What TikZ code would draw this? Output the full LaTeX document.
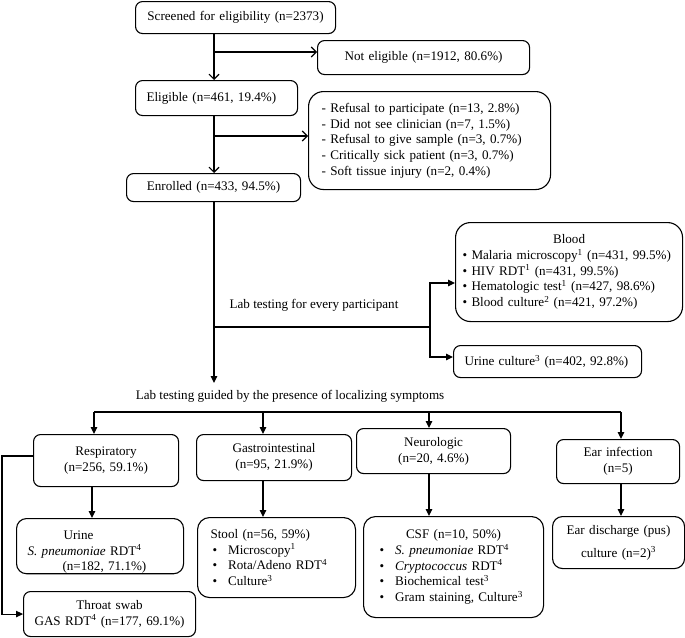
\documentclass[tikz,border=0pt]{standalone}
\usepackage{fontspec}
\setmainfont{Liberation Serif}
\usetikzlibrary{arrows.meta}
\newcommand{\mln}[1]{\mbox{#1}}
\begin{document}
\begin{tikzpicture}[x=1pt,y=-1pt,
  every node/.style={font=\fontsize{13.1}{15.7}\selectfont},
  bx/.style={draw, line width=1.1pt, rounded corners=7pt, anchor=north west, inner ysep=0pt},
  cbox/.style args={#1/#2}{bx, inner xsep=0pt, minimum width=#1, text width=#1, minimum height=#2, align=center},
  lbox/.style args={#1/#2/#3}{bx, inner xsep=#3, text width=#1, minimum height=#2, align=left},
  con/.style={line width=1.1pt},
  oarr/.style={con, -{Straight Barb[length=5pt,width=10pt]}},
  farr/.style={con, -{Triangle[length=7pt,width=6.5pt]}},
  lbl/.style={inner sep=0pt}]
\useasboundingbox (0,0) rectangle (685,637);

% top part
\node[cbox=200pt/32pt] (scr) at (135,1) {Screened for eligibility (n=2373)};
\node[cbox=212pt/34pt] (notel) at (317,40) {Not eligible (n=1912, 80.6\%)};
\node[lbox=140pt/35pt/11pt] (elig) at (135,80) {Eligible (n=461, 19.4\%)};
\node[lbox=216pt/98pt/13pt, rounded corners=15pt] (ref) at (308,91) {\mln{- Refusal to participate (n=13, 2.8\%)}\\\mln{- Did not see clinician (n=7, 1.5\%)}\\\mln{- Refusal to give sample (n=3, 0.7\%)}\\\mln{- Critically sick patient (n=3, 0.7\%)}\\\mln{- Soft tissue injury (n=2, 0.4\%)}};
\node[cbox=174pt/28pt] (enr) at (126,173) {Enrolled (n=433, 94.5\%)};

\node[lbox=213pt/99pt/7pt, rounded corners=15pt] (blood) at (455,222) {\makebox[213pt]{Blood}\\\mln{\textbullet\ Malaria microscopy\textsuperscript{1} (n=431, 99.5\%)}\\\mln{\textbullet\ HIV RDT\textsuperscript{1} (n=431, 99.5\%)}\\\mln{\textbullet\ Hematologic test\textsuperscript{1} (n=427, 98.6\%)}\\\mln{\textbullet\ Blood culture\textsuperscript{2} (n=421, 97.2\%)}};
\node[lbox=166pt/32pt/11pt] (uc) at (453,345) {\mln{Urine culture\textsuperscript{3} (n=402, 92.8\%)}};

\node[lbl] (every) at (314,305) {Lab testing for every participant};
\node[lbl] (guided) at (290,396) {Lab testing guided by the presence of localizing symptoms};

% bottom part
\node[cbox=145pt/52pt] (resp) at (33,434) {Respiratory\\(n=256, 59.1\%)};
\node[cbox=155pt/46pt] (gas) at (196,434) {Gastrointestinal\\(n=95, 21.9\%)};
\node[cbox=154pt/45pt] (neu) at (356,428) {Neurologic\\(n=20, 4.6\%)};
\node[cbox=123pt/44pt] (ear) at (556,439) {Ear infection\\(n=5)};

\node[lbox=145pt/50pt/11pt, rounded corners=10pt] (urine) at (16,518) {\rule{0pt}{21pt}\hspace*{36pt}Urine\\\mln{\textit{S. pneumoniae} RDT\textsuperscript{4}}\\\hspace*{35pt}(n=182, 71.1\%)};
\node[lbox=132pt/80pt/13pt, rounded corners=12pt] (stool) at (197,517) {Stool (n=56, 59\%)\\\hspace*{2pt}\textbullet\hspace{11pt}Microscopy\textsuperscript{1}\\\hspace*{2pt}\textbullet\hspace{11pt}\mln{Rota/Adeno RDT\textsuperscript{4}}\\\hspace*{2pt}\textbullet\hspace{11pt}Culture\textsuperscript{3}};
\node[lbox=148pt/101pt/16pt, rounded corners=12pt] (csf) at (363,516) {\makebox[148pt]{CSF (n=10, 50\%)}\\\textbullet\hspace{11pt}\mln{\textit{S. pneumoniae} RDT\textsuperscript{4}}\\\textbullet\hspace{11pt}\mln{\textit{Cryptococcus} RDT\textsuperscript{4}}\\\textbullet\hspace{11pt}\mln{Biochemical test\textsuperscript{3}}\\\textbullet\hspace{11pt}\mln{Gram staining, Culture\textsuperscript{3}}};
\node[cbox=132pt/52pt, rounded corners=10pt] (eard) at (552,516) {Ear discharge (pus)\\[7pt]culture (n=2)\textsuperscript{3}};
\node[cbox=172pt/45pt] (throat) at (23,591) {Throat swab\\GAS RDT\textsuperscript{4} (n=177, 69.1\%)};

% connectors top
\coordinate (m) at (214,0);
\coordinate (b1) at (214,52);
\coordinate (b2) at (214,136);
\draw[oarr] (scr.south -| m) -- (elig.north -| m);
\draw[oarr] (b1) -- (b1 -| notel.west);
\draw[oarr] (elig.south -| m) -- (enr.north -| m);
\draw[oarr] (b2) -- (b2 -| ref.west);
\draw[farr] (enr.south -| m) -- (214,383);

% lab testing for every participant
\coordinate (b3) at (214,327);
\coordinate (k1) at (430,283);
\coordinate (k2) at (430,357);
\draw[con] (b3) -- (430,327);
\draw[farr] (430,327) -- (k1) -- (k1 -| blood.west);
\draw[farr] (430,327) -- (k2) -- (k2 -| uc.west);

% localizing symptoms
\coordinate (h1) at (94,412);
\coordinate (h2) at (263,412);
\coordinate (h3) at (429,412);
\coordinate (h4) at (621,412);
\draw[con] (h1) -- (h4);
\draw[farr] (h1) -- (h1 |- resp.north);
\draw[farr] (h2) -- (h2 |- gas.north);
\draw[farr] (h3) -- (h3 |- neu.north);
\draw[farr] (h4) -- (h4 |- ear.north);

\coordinate (r2) at (92,0);
\draw[farr] (resp.south -| r2) -- (urine.north -| r2);
\draw[farr] (gas.south -| h2) -- (stool.north -| h2);
\draw[farr] (neu.south -| h3) -- (csf.north -| h3);
\draw[farr] (ear.south -| h4) -- (eard.north -| h4);

\coordinate (rw) at (33,456);
\coordinate (lx) at (2,456);
\draw[farr] (rw) -- (lx) |- (throat.west);
\end{tikzpicture}
\end{document}
